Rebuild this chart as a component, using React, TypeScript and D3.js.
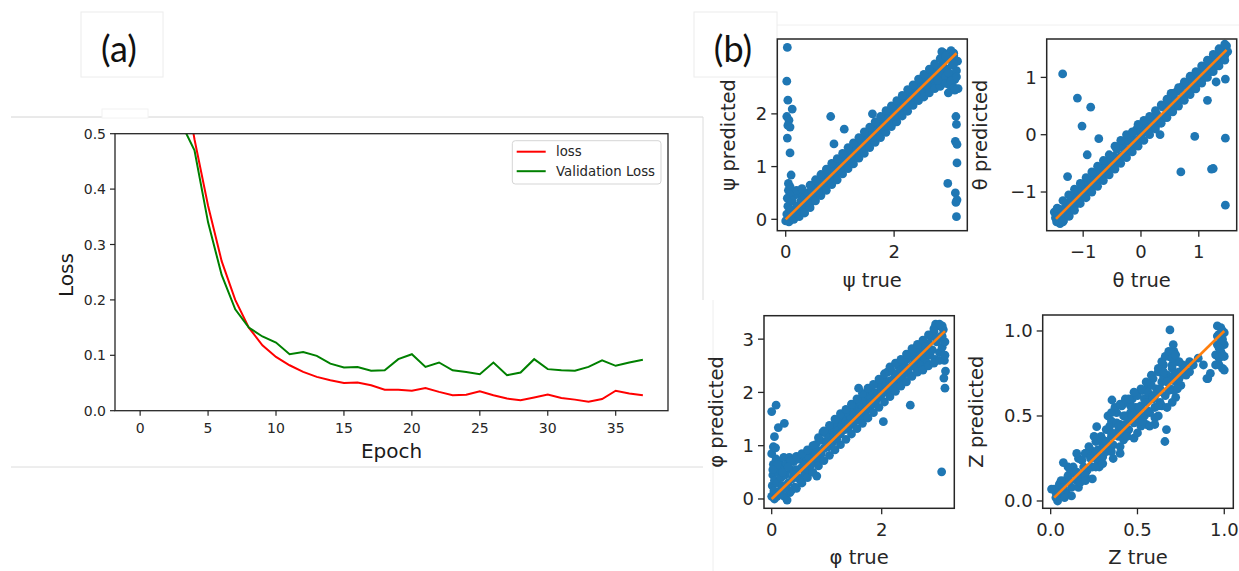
import React from "react";
import * as d3 from "d3";

// ---------- Panel (a) data ----------
const lossValues = [1.4, 0.98, 0.78, 0.63, 0.49, 0.37, 0.27, 0.2, 0.15, 0.118, 0.097, 0.082, 0.07, 0.061, 0.055, 0.05, 0.051, 0.046, 0.038, 0.038, 0.036, 0.041, 0.034, 0.028, 0.029, 0.035, 0.028, 0.022, 0.019, 0.024, 0.029, 0.023, 0.02, 0.016, 0.021, 0.036, 0.031, 0.028];
const valLossValues = [0.95, 0.75, 0.62, 0.52, 0.47, 0.34, 0.245, 0.183, 0.15, 0.134, 0.123, 0.102, 0.106, 0.099, 0.085, 0.078, 0.079, 0.072, 0.073, 0.093, 0.102, 0.079, 0.087, 0.073, 0.07, 0.066, 0.087, 0.064, 0.069, 0.093, 0.075, 0.073, 0.072, 0.079, 0.091, 0.081, 0.087, 0.092];
const epochTicks = [0, 5, 10, 15, 20, 25, 30, 35];
const lossTicks = [0, 0.1, 0.2, 0.3, 0.4, 0.5];
const legendLabels = ["loss", "Validation Loss"];

// ---------- Panel (b) data: flat [true, predicted] pairs ----------
const psiBand = [0,-0.03,0.02,0.1,0.04,0.25,0.03,0.4,0.05,0.55,0.06,-0.05,0.08,0.05,0.1,0.18,0.12,0.35,0.15,0.45,0.18,0.1,0.2,0.25,0.22,0.48,0.25,0.15,0.28,0.35,0.3,0.5,0.32,0.22,0.35,0.42,0.38,0.28,0.4,0.5,0.42,0.36,0.45,0.3,0.48,0.55,0.5,0.42,0.53,0.62,0.55,0.48,0.58,0.55,0.6,0.7,0.62,0.52,0.65,0.66,0.68,0.58,0.7,0.78,0.72,0.64,0.75,0.7,0.78,0.86,0.8,0.72,0.83,0.82,0.85,1.0,0.88,0.8,0.9,0.92,0.93,1.05,0.95,0.88,0.98,0.98,1.0,1.12,1.03,0.95,1.05,1.08,1.08,1.02,1.1,1.2,1.13,1.05,1.15,1.18,1.18,1.3,1.2,1.12,1.23,1.25,1.25,1.35,1.28,1.2,1.3,1.32,1.33,1.42,1.35,1.28,1.38,1.38,1.4,1.5,1.43,1.36,1.45,1.48,1.48,1.6,1.5,1.42,1.53,1.55,1.55,1.65,1.58,1.5,1.6,1.62,1.63,1.72,1.65,1.56,1.68,1.68,1.7,1.82,1.73,1.64,1.75,1.76,1.78,1.9,1.8,1.72,1.83,1.84,1.85,1.98,1.88,1.8,1.9,1.92,1.93,2.05,1.95,1.88,1.98,2.0,2.0,2.12,2.03,1.95,2.05,2.08,2.08,2.2,2.1,2.02,2.13,2.14,2.15,2.28,2.18,2.08,2.2,2.2,2.23,2.35,2.25,2.15,2.28,2.28,2.3,2.42,2.33,2.22,2.35,2.35,2.38,2.5,2.4,2.3,2.43,2.42,2.45,2.55,2.48,2.38,2.5,2.5,2.53,2.62,2.55,2.4,2.58,2.55,2.6,2.68,2.63,2.48,2.65,2.6,2.68,2.75,2.7,2.52,2.73,2.66,2.75,2.8,2.78,2.58,2.8,2.72,2.83,2.88,2.85,2.62,2.88,2.78,2.9,2.95,2.92,3.15,2.95,2.7,2.97,2.85,3.0,3.05,3.02,2.55,3.05,2.75,3.07,2.92,3.1,3.1,3.12,2.65,3.15,2.82,3.17,3.0,3.18,2.48,2.88,3.18,3.05,3.2,2.75,2.92];
const psiFill = [0.15,0.0,0.25,0.05,0.35,0.12,0.45,0.22,0.55,0.35,0.65,0.45,0.75,0.55,0.85,0.66,0.95,0.75,1.05,0.86,1.15,0.96,1.25,1.05,1.35,1.16,1.45,1.25,1.55,1.36,1.65,1.46,1.75,1.55,1.85,1.65,1.95,1.76,2.05,1.85,2.15,1.96,2.25,2.05,2.35,2.16,2.45,2.25,2.55,2.32,2.65,2.4,2.75,2.48,2.85,2.52,2.95,2.58,3.05,2.62,3.15,2.7,0.1,0.52,0.2,0.55,0.3,0.58,0.45,0.65,0.55,0.75,0.65,0.85,0.75,0.95,0.85,1.06,0.95,1.15,1.05,1.25,1.15,1.36,1.25,1.45,1.35,1.55,1.45,1.66,1.55,1.75,1.65,1.85,1.75,1.95,1.85,2.06,1.95,2.15,2.05,2.25,2.15,2.35,2.25,2.46,2.35,2.55,2.45,2.66,2.55,2.75,2.65,2.85,2.75,2.95,2.85,3.05,2.95,3.1,3.1,3.15,3.0,2.4,3.1,2.5,0.2,0.12,0.4,0.32,0.6,0.52,0.8,0.76,1.0,0.94,1.2,1.16,1.4,1.34,1.6,1.55,1.8,1.76,2.0,1.95,2.2,2.14,2.4,2.36,2.6,2.55,2.8,2.64,3.0,2.78,3.1,2.95];
const psiOutliers = [0.03,3.26,0.02,2.62,0.04,2.26,0.02,1.95,0.06,1.88,0.04,1.78,0.08,1.75,0.03,1.54,0.08,1.26,0.12,2.09,0.1,0.84,0.05,0.68,0.08,0.62,0.83,1.95,0.89,1.43,1.08,1.71,1.6,2.0,2.99,0.68,3.12,2.45,3.14,1.95,3.15,1.8,3.13,1.48,3.16,1.42,3.16,1.07,3.13,0.5,3.16,0.37,3.14,0.32,3.15,0.05];
const thetaBand = [-1.5,-1.35,-1.48,-1.45,-1.46,-1.52,-1.44,-1.4,-1.42,-1.3,-1.4,-1.55,-1.38,-1.45,-1.36,-1.35,-1.34,-1.5,-1.32,-1.28,-1.3,-1.4,-1.28,-1.2,-1.26,-1.32,-1.24,-1.42,-1.22,-1.18,-1.2,-1.28,-1.18,-1.12,-1.15,-1.25,-1.12,-1.05,-1.1,-1.18,-1.08,-0.98,-1.05,-1.1,-1.02,-0.95,-1.0,-1.05,-0.98,-0.88,-0.95,-1.0,-0.92,-0.85,-0.9,-0.95,-0.87,-0.8,-0.85,-0.9,-0.82,-0.72,-0.8,-0.85,-0.77,-0.68,-0.75,-0.8,-0.72,-0.62,-0.7,-0.75,-0.67,-0.58,-0.65,-0.7,-0.62,-0.5,-0.6,-0.66,-0.57,-0.45,-0.55,-0.6,-0.52,-0.4,-0.5,-0.55,-0.47,-0.38,-0.45,-0.5,-0.42,-0.25,-0.4,-0.45,-0.37,-0.22,-0.35,-0.38,-0.32,-0.18,-0.3,-0.35,-0.27,-0.12,-0.25,-0.3,-0.22,-0.1,-0.2,-0.25,-0.17,-0.05,-0.15,-0.2,-0.12,0.05,-0.1,-0.12,-0.07,0.1,-0.05,-0.08,-0.02,0.15,0,-0.02,0.03,0.18,0.05,0.05,0.08,0.22,0.1,0.05,0.13,0.15,0.15,0.08,0.18,0.25,0.2,0.12,0.23,0.3,0.25,0.15,0.28,0.35,0.3,0.2,0.33,0.0,0.35,0.28,0.38,0.48,0.4,0.3,0.42,0.52,0.45,0.35,0.48,0.55,0.5,0.4,0.52,0.72,0.55,0.5,0.58,0.62,0.6,0.5,0.62,0.75,0.65,0.58,0.68,0.8,0.7,0.62,0.72,0.85,0.75,0.68,0.78,0.88,0.8,0.72,0.82,0.92,0.85,0.75,0.88,0.98,0.9,0.8,0.92,1.02,0.95,0.88,0.98,1.05,1.0,0.92,1.02,1.08,1.05,0.95,1.08,1.15,1.1,1.0,1.12,1.2,1.15,1.08,1.18,1.25,1.2,1.1,1.22,1.3,1.25,1.15,1.28,1.35,1.3,1.22,1.32,1.4,1.35,1.28,1.38,1.45,1.4,1.32,1.42,1.5,1.45,1.38,1.48,1.55,1.5,1.45];
const thetaFill = [-1.35,-1.52,-1.25,-1.42,-1.15,-1.32,-1.05,-1.2,-0.95,-1.1,-0.85,-1.0,-0.75,-0.9,-0.65,-0.8,-0.55,-0.7,-0.45,-0.6,-0.35,-0.5,-0.25,-0.4,-0.15,-0.3,-0.05,-0.2,0.05,-0.1,0.15,0.0,0.25,0.1,0.35,0.2,0.45,0.3,0.55,0.4,0.65,0.5,0.75,0.6,0.85,0.7,0.95,0.8,1.05,0.9,1.15,1.0,1.25,1.1,1.35,1.2,1.45,1.3,-1.45,-1.28,-1.35,-1.15,-1.25,-1.05,-1.15,-0.95,-1.05,-0.85,-0.95,-0.75,-0.85,-0.65,-0.75,-0.55,-0.65,-0.45,-0.55,-0.35,-0.45,-0.2,-0.35,-0.1,-0.25,0.0,-0.15,0.05,-0.05,0.18,0.05,0.25,0.15,0.32,0.25,0.42,0.35,0.52,0.45,0.62,0.55,0.72,0.65,0.82,0.75,0.92,0.85,1.02,0.95,1.1,1.05,1.2,1.15,1.3,1.25,1.4,1.35,1.5,1.45,1.58];
const thetaOutliers = [-1.355,1.06,-1.1,0.64,-0.87,0.48,-1.02,0.15,-0.73,-0.07,-0.93,-0.35,-1.27,-0.73,0.93,-0.03,0.69,-0.65,1.22,-0.6,1.25,-0.59,1.15,0.6,1.46,0.97,1.46,-0.06,1.46,-1.23,1.3,0.92];
const phiBand = [0,0.05,0.01,0.25,0.02,0.45,0.03,0.65,0,0.85,0.04,0.15,0.05,0.35,0.06,0.55,0.08,0.75,0.1,0.05,0.1,0.3,0.12,0.5,0.14,0.7,0.15,0.15,0.17,0.4,0.18,0.62,0.2,0.25,0.22,0.78,0.23,0.05,0.25,0.45,0.27,0.65,0.28,-0.02,0.3,0.3,0.32,0.78,0.33,0.12,0.35,0.55,0.38,0.38,0.4,0.7,0.42,0.22,0.45,0.55,0.48,0.4,0.5,0.75,0.52,0.35,0.55,0.6,0.58,0.82,0.6,0.48,0.63,0.7,0.65,0.55,0.68,0.78,0.7,0.62,0.73,0.9,0.75,0.68,0.78,0.82,0.8,1.02,0.83,0.75,0.85,0.9,0.88,1.1,0.9,0.85,0.93,1.25,0.95,0.95,0.98,1.08,1.0,1.22,1.03,0.98,1.05,1.15,1.08,1.3,1.1,1.05,1.13,1.2,1.15,1.4,1.18,1.12,1.2,1.28,1.23,1.5,1.25,1.22,1.28,1.38,1.3,1.55,1.33,1.3,1.35,1.45,1.38,1.62,1.4,1.35,1.43,1.5,1.45,1.68,1.48,1.42,1.5,1.58,1.53,1.75,1.55,1.48,1.58,1.65,1.6,1.82,1.63,1.55,1.65,1.72,1.68,1.9,1.7,1.62,1.73,1.78,1.75,1.95,1.78,1.7,1.8,1.88,1.83,2.02,1.85,1.78,1.88,1.92,1.9,1.85,1.93,2.0,1.95,2.15,1.98,1.92,2.0,2.08,2.03,2.25,2.05,2.0,2.08,2.15,2.1,2.38,2.13,2.05,2.15,2.22,2.18,2.4,2.2,2.1,2.23,2.28,2.25,2.18,2.28,2.35,2.3,2.5,2.33,2.25,2.35,2.42,2.38,2.3,2.4,2.55,2.43,2.38,2.45,2.62,2.48,2.45,2.5,2.35,2.53,2.68,2.55,2.5,2.58,2.75,2.6,2.58,2.63,2.45,2.65,2.82,2.68,2.62,2.7,2.7,2.73,2.52,2.75,2.85,2.78,2.65,2.8,2.78,2.83,2.55,2.85,2.92,2.88,2.7,2.9,3.05,2.92,2.8,2.95,3.15,2.97,2.62,3.0,2.95,3.02,3.25,3.05,2.75,3.07,3.05,3.1,2.85,3.12,3.18,3.14,2.6,3.15,2.95,3.16,2.4,2.98,3.28,3.1,3.25];
const phiFill = [0.35,0.15,0.45,0.2,0.55,0.3,0.65,0.4,0.75,0.5,0.85,0.62,0.95,0.72,1.05,0.82,1.15,0.92,1.25,1.02,1.35,1.12,1.45,1.22,1.55,1.32,1.65,1.42,1.75,1.52,1.85,1.62,1.95,1.72,2.05,1.82,2.15,1.92,2.25,2.02,2.35,2.12,2.45,2.2,2.55,2.3,2.65,2.38,2.75,2.42,2.85,2.5,2.95,2.55,3.05,2.6,3.15,2.7,0.35,0.72,0.45,0.8,0.55,0.85,0.65,0.92,0.75,1.0,0.85,1.15,0.95,1.28,1.05,1.38,1.15,1.5,1.25,1.6,1.35,1.68,1.45,1.78,1.55,1.88,1.65,1.98,1.75,2.08,1.85,2.15,1.95,2.25,2.05,2.35,2.15,2.48,2.25,2.55,2.35,2.62,2.45,2.72,2.55,2.82,2.65,2.9,2.75,2.98,2.85,3.08,2.95,3.2,3.05,3.28,0.05,0.0,0.15,0.55,0.2,0.5,0.25,0.2,0.1,0.65,0.3,0.6,0.02,0.55,0.4,0.46,0.6,0.64,0.8,0.86,1.0,1.06,1.2,1.2,1.4,1.42,1.6,1.62,1.8,1.8,2.0,1.98,2.2,2.2,2.4,2.44,2.6,2.62,2.8,2.86,3.0,3.02,3.1,3.05];
const phiOutliers = [0,1.64,0.08,1.76,0.05,1.17,0.03,0.98,0.07,0.96,0.12,1.34,0.23,1.42,0.82,0.43,1.58,2.08,2.03,1.45,2.52,1.76,3.09,0.51,3.15,2.08,3.13,2.27];
const zBand = [0.02,0.07,0.03,0.02,0.05,0.1,0.06,0.04,0.08,0.12,0.09,0.05,0.1,0.15,0.12,0.08,0.13,0.2,0.15,0.12,0.16,0.25,0.18,0.15,0.2,0.28,0.21,0.18,0.23,0.3,0.24,0.2,0.26,0.35,0.27,0.24,0.29,0.38,0.3,0.26,0.32,0.42,0.33,0.3,0.35,0.47,0.36,0.33,0.38,0.52,0.39,0.38,0.4,0.45,0.41,0.56,0.42,0.36,0.43,0.5,0.44,0.58,0.45,0.42,0.46,0.52,0.47,0.6,0.48,0.46,0.49,0.55,0.5,0.62,0.51,0.48,0.52,0.56,0.53,0.65,0.54,0.5,0.55,0.6,0.56,0.68,0.57,0.52,0.58,0.62,0.59,0.72,0.6,0.55,0.61,0.66,0.62,0.76,0.63,0.58,0.64,0.7,0.65,0.8,0.66,0.62,0.67,0.74,0.68,0.85,0.69,0.66,0.7,0.78,0.71,0.88,0.72,0.7,0.73,0.82,0.74,0.76,0.75,0.68,0.76,0.8,0.78,0.74,0.8,0.82,0.82,0.8,0.85,0.84,0.88,0.8,0.9,0.72,0.92,0.75,0.95,0.86,0.96,0.92,0.97,0.8,0.97,0.98,0.98,0.88,0.98,1.02,0.99,0.78,0.99,0.95,1.0,0.85,1.0,0.92,1.0,0.77,0.96,1.03,0.3,0.33,0.4,0.4,0.5,0.52,0.55,0.45,0.6,0.62,0.45,0.48,0.35,0.38,0.25,0.27];
const zFill = [0.04,0.0,0.06,0.12,0.08,0.05,0.1,0.2,0.12,0.03,0.14,0.16,0.16,0.08,0.18,0.24,0.2,0.15,0.22,0.32,0.24,0.13,0.26,0.28,0.28,0.2,0.3,0.36,0.32,0.29,0.34,0.44,0.36,0.25,0.38,0.4,0.4,0.32,0.42,0.5,0.44,0.41,0.46,0.56,0.48,0.37,0.5,0.52,0.52,0.44,0.54,0.6,0.56,0.53,0.58,0.68,0.6,0.49,0.62,0.64,0.64,0.56,0.66,0.72,0.68,0.65,0.7,0.8,0.72,0.61,0.74,0.72,0.05,0.08,0.08,0.02,0.11,0.19,0.14,0.17,0.17,0.11,0.2,0.28,0.23,0.26,0.26,0.2,0.29,0.37,0.32,0.35,0.35,0.29,0.38,0.46,0.41,0.44,0.44,0.38,0.47,0.55,0.5,0.53,0.53,0.47,0.56,0.64,0.59,0.62,0.62,0.56,0.65,0.73,0.68,0.71,0.71,0.65,0.74,0.82,0.77,0.78,0.8,0.76,0.97,0.84,0.98,0.93,0.99,0.86,0.96,0.97,1.0,0.99,0.99,1.0,0.97,0.9,0.95,0.8,0.37,0.55,0.4,0.57,0.43,0.6,0.33,0.5,0.62,0.78,0.64,0.82,0.66,0.85,0.68,0.88,0.7,0.84,0.72,0.86,0.03,0.05,0.07,0.08,0.11,0.12,0.15,0.17,0.19,0.2,0.23,0.25,0.27,0.3,0.31,0.31,0.35,0.4,0.39,0.44,0.43,0.45,0.47,0.5,0.51,0.55,0.55,0.58,0.59,0.6,0.63,0.66,0.67,0.7,0.71,0.74,0.2,0.12,0.3,0.22,0.4,0.28,0.5,0.4,0.6,0.45,0.7,0.58,0.15,0.28,0.25,0.38,0.35,0.52,0.45,0.6,0.55,0.7,0.65,0.76,0.58,0.74,0.52,0.66,0.48,0.64,0.57,0.44,0.62,0.5,0.67,0.55,0.73,0.66];
const zOutliers = [0.687,1.006,0.706,0.92,0.353,0.594,0.265,0.437,0.658,0.35,0.667,0.42,0.073,0.226,0.005,0.07,0.82,0.8,0.905,0.72];

const psiXTicks = [0, 2];
const psiYTicks = [0, 1, 2];
const thetaTicks = [-1, 0, 1];
const phiXTicks = [0, 2];
const phiYTicks = [0, 1, 2, 3];
const zTicks = [0, 0.5, 1.0];

const psiDomainX = [-0.155, 3.35];
const psiDomainY = [-0.216, 3.42];
const thetaDomainX = [-1.631, 1.656];
const thetaDomainY = [-1.675, 1.67];
const phiDomainX = [-0.14, 3.32];
const phiDomainY = [-0.175, 3.44];
const zDomainX = [-0.046, 1.052];
const zDomainY = [-0.043, 1.094];

const psiFit = [0, 3.15];
const thetaFit = [-1.47, 1.48];
const phiFit = [0, 3.15];
const zFit = [0.02, 1.0];

const FONT = "'DejaVu Sans', sans-serif";
const FRAME = "#262626";

function pairs(flat: number[]): [number, number][] {
  const out: [number, number][] = [];
  for (let i = 0; i < flat.length; i += 2) out.push([flat[i], flat[i + 1]]);
  return out;
}

function LossPanel() {
  const L = 115, R = 668, T = 133.7, B = 410.7;
  const x = d3.scaleLinear().domain([-1.85, 38.85]).range([L, R]);
  const y = d3.scaleLinear().domain([0, 0.5]).range([B, T]);
  const line = d3
    .line<number>()
    .x((_, i) => x(i))
    .y((d) => y(d));
  return (
    <g fontFamily={FONT}>
      <defs>
        <clipPath id="clipA">
          <rect x={L} y={T} width={R - L} height={B - T} />
        </clipPath>
      </defs>
      <g clipPath="url(#clipA)">
        <path d={line(lossValues) || ""} fill="none" stroke="#ff0000" strokeWidth={2} />
        <path d={line(valLossValues) || ""} fill="none" stroke="#008000" strokeWidth={2} />
      </g>
      <rect x={L} y={T} width={R - L} height={B - T} fill="none" stroke={FRAME} strokeWidth={1.3} />
      {epochTicks.map((t) => (
        <g key={"ex" + t}>
          <line x1={x(t)} x2={x(t)} y1={B} y2={B + 5} stroke={FRAME} strokeWidth={1.2} />
          <text x={x(t)} y={B + 22.5} textAnchor="middle" fontSize={14} fill="#262626">
            {t}
          </text>
        </g>
      ))}
      {lossTicks.map((t) => (
        <g key={"ly" + t}>
          <line x1={L - 5} x2={L} y1={y(t)} y2={y(t)} stroke={FRAME} strokeWidth={1.2} />
          <text x={L - 9} y={y(t)} dy="0.36em" textAnchor="end" fontSize={14} fill="#262626">
            {d3.format(".1f")(t)}
          </text>
        </g>
      ))}
      <text x={(L + R) / 2} y={458} textAnchor="middle" fontSize={20} fill="#1a1a1a">
        Epoch
      </text>
      <text transform={`translate(72.5,275) rotate(-90)`} textAnchor="middle" fontSize={20} fill="#1a1a1a">
        Loss
      </text>
      <rect x={512.3} y={140.7} width={148.7} height={43.3} rx={3} fill="#fff" fillOpacity={0.8} stroke="#d5d5d5" strokeWidth={1} />
      {legendLabels.map((lab, i) => (
        <g key={lab}>
          <line x1={516.7} x2={545.7} y1={151.7 + i * 19.5} y2={151.7 + i * 19.5} stroke={i === 0 ? "#ff0000" : "#008000"} strokeWidth={2} />
          <text x={556} y={151.7 + i * 19.5} dy="0.35em" fontSize={13.3} fill="#262626">
            {lab}
          </text>
        </g>
      ))}
    </g>
  );
}

type ScatterProps = {
  id: string;
  box: [number, number, number, number];
  dx: number[];
  dy: number[];
  xt: number[];
  yt: number[];
  fmt: (v: number) => string;
  band: number[];
  fill: number[];
  outl: number[];
  fit: number[];
  xlabel: string;
  ylabel: string;
  ylabelX: number;
  xlabelY: number;
};

function Scatter(p: ScatterProps) {
  const [L, T, R, B] = p.box;
  const x = d3.scaleLinear().domain(p.dx).range([L, R]);
  const y = d3.scaleLinear().domain(p.dy).range([B, T]);
  const pts = pairs(p.band).concat(pairs(p.fill), pairs(p.outl));
  return (
    <g fontFamily={FONT}>
      <defs>
        <clipPath id={p.id}>
          <rect x={L} y={T} width={R - L} height={B - T} />
        </clipPath>
      </defs>
      <g clipPath={`url(#${p.id})`}>
        {pts.map((d, i) => (
          <circle key={i} cx={x(d[0])} cy={y(d[1])} r={4.4} fill="#1f77b4" />
        ))}
        <line x1={x(p.fit[0])} y1={y(p.fit[0])} x2={x(p.fit[1])} y2={y(p.fit[1])} stroke="#ff7f0e" strokeWidth={2.6} />
      </g>
      <rect x={L} y={T} width={R - L} height={B - T} fill="none" stroke={FRAME} strokeWidth={1.5} />
      {p.xt.map((t) => (
        <g key={"x" + t}>
          <line x1={x(t)} x2={x(t)} y1={B} y2={B + 6} stroke={FRAME} strokeWidth={1.3} />
          <text x={x(t)} y={B + 27.5} textAnchor="middle" fontSize={18} fill="#262626">
            {p.fmt(t)}
          </text>
        </g>
      ))}
      {p.yt.map((t) => (
        <g key={"y" + t}>
          <line x1={L - 6} x2={L} y1={y(t)} y2={y(t)} stroke={FRAME} strokeWidth={1.3} />
          <text x={L - 10} y={y(t)} dy="0.36em" textAnchor="end" fontSize={18} fill="#262626">
            {p.fmt(t)}
          </text>
        </g>
      ))}
      <text x={(L + R) / 2} y={p.xlabelY} textAnchor="middle" fontSize={19.5} fill="#262626">
        {p.xlabel}
      </text>
      <text transform={`translate(${p.ylabelX},${(T + B) / 2}) rotate(-90)`} textAnchor="middle" fontSize={19.5} fill="#262626">
        {p.ylabel}
      </text>
    </g>
  );
}

export default function App() {
  const intFmt = d3.format("d");
  const oneFmt = d3.format(".1f");
  return (
    <svg width={1239} height={571} style={{ position: "absolute", left: 0, top: 0, background: "#fff" }}>
      <rect x={0} y={0} width={1239} height={571} fill="#fff" />
      <line x1={11} x2={703} y1={117} y2={117} stroke="#d4d4d4" strokeWidth={1} />
      <line x1={11} x2={703} y1={467} y2={467} stroke="#dcdcdc" strokeWidth={1} />
      <line x1={703} x2={703} y1={117} y2={300} stroke="#dcdcdc" strokeWidth={1} />
      <line x1={713} x2={713} y1={300} y2={571} stroke="#eeeeee" strokeWidth={1} />
      <line x1={777} x2={1239} y1={25} y2={25} stroke="#f0f0f0" strokeWidth={1} />
      <rect x={102} y={109} width={46} height={9} fill="#fff" stroke="#f2f2f2" />
      <rect x={81} y={12} width={82} height={65} fill="#fff" stroke="#ececec" />
      <rect x={694} y={12} width={83} height={65} fill="#fff" stroke="#ececec" />
      <text x={119} y={62} textAnchor="middle" fontFamily="Lato, 'Open Sans', sans-serif" fontSize={36} fill="#111">
        (a)
      </text>
      <text x={733} y={61.5} textAnchor="middle" fontFamily="Lato, 'Open Sans', sans-serif" fontSize={36} fill="#111">
        (b)
      </text>
      <LossPanel />
      <Scatter id="cpsi" box={[777.3, 39, 967.3, 230.7]} dx={psiDomainX} dy={psiDomainY} xt={psiXTicks} yt={psiYTicks} fmt={intFmt} band={psiBand} fill={psiFill} outl={psiOutliers} fit={psiFit} xlabel="ψ true" ylabel="ψ predicted" ylabelX={735} xlabelY={287} />
      <Scatter id="ctheta" box={[1046.7, 39, 1236.7, 230.7]} dx={thetaDomainX} dy={thetaDomainY} xt={thetaTicks} yt={thetaTicks} fmt={intFmt} band={thetaBand} fill={thetaFill} outl={thetaOutliers} fit={thetaFit} xlabel="θ true" ylabel="θ predicted" ylabelX={987} xlabelY={287} />
      <Scatter id="cphi" box={[764, 315.7, 954.3, 508.3]} dx={phiDomainX} dy={phiDomainY} xt={phiXTicks} yt={phiYTicks} fmt={intFmt} band={phiBand} fill={phiFill} outl={phiOutliers} fit={phiFit} xlabel="φ true" ylabel="φ predicted" ylabelX={723} xlabelY={564} />
      <Scatter id="cz" box={[1042.7, 315, 1233.3, 508.3]} dx={zDomainX} dy={zDomainY} xt={zTicks} yt={zTicks} fmt={oneFmt} band={zBand} fill={zFill} outl={zOutliers} fit={zFit} xlabel="Z true" ylabel="Z predicted" ylabelX={983} xlabelY={564} />
    </svg>
  );
}
